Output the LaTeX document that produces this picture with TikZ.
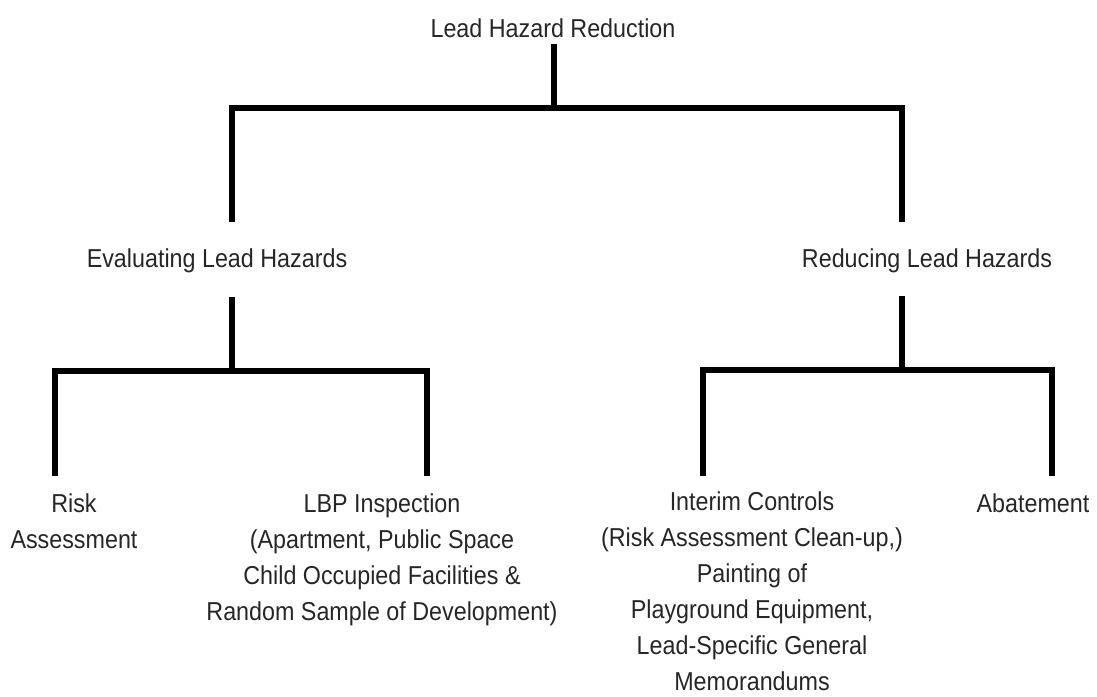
\documentclass[tikz,border=0pt]{standalone}
\usepackage{fontspec}
\setmainfont{Liberation Sans}[FakeStretch=0.9]
\usetikzlibrary{positioning}
\definecolor{textgrey}{RGB}{38,38,38}
\tikzset{
  % plain centred text of the chart (placed at its last baseline)
  caption/.style = {
    align = center,
    anchor = base,
    inner sep = 0pt,
    text = textgrey,
    font = \fontsize{25.9}{36}\selectfont
  },
  % thick lines of the tree
  branch/.style = {
    draw = black,
    line width = 6.5pt,
    line join = miter
  }
}

\begin{document}
\begin{tikzpicture}[x=1pt, y=-1pt]
  \useasboundingbox (0,0) rectangle (1097,696);

  \node[caption, inner ysep=7pt] (root) at (553,37) {Lead Hazard Reduction};
  \node[caption] (evaluate) at (217,267) {Evaluating Lead Hazards};
  \node[caption] (reduce) at (927,267) {Reducing Lead Hazards};
  \node[caption] (risk) at (74,548) {Risk\\Assessment};
  \node[caption] (lbp) at (382,620) {LBP Inspection\\(Apartment, Public Space\\Child Occupied Facilities \&\\Random Sample of Development)};
  \node[caption] (interim) at (752,690) {Interim Controls\\(Risk Assessment Clean-up,)\\Painting of\\Playground Equipment,\\Lead-Specific General\\Memorandums};
  \node[caption] (abate) at (1033,512) {Abatement};

  % forks of the tree
  \coordinate (hub) at (554,108);
  \coordinate (evalleg) at (232,222);
  \coordinate (reduceleg) at (902,222);
  \coordinate (evalstem) at (232,297);
  \coordinate (evalhub) at (232,371);
  \coordinate (riskleg) at (55,476);
  \coordinate (lbpleg) at (427,476);
  \coordinate (reducestem) at (902,296);
  \coordinate (reducehub) at (902,370);
  \coordinate (interimleg) at (703,476);
  \coordinate (abateleg) at (1052,476);

  \draw[branch] (hub |- root.south) -- (hub);
  \draw[branch] (evalleg) |- (hub) -| (reduceleg);

  \draw[branch] (evalstem) -- (evalhub);
  \draw[branch] (riskleg) |- (evalhub) -| (lbpleg);

  \draw[branch] (reducestem) -- (reducehub);
  \draw[branch] (interimleg) |- (reducehub) -| (abateleg);
\end{tikzpicture}
\end{document}
